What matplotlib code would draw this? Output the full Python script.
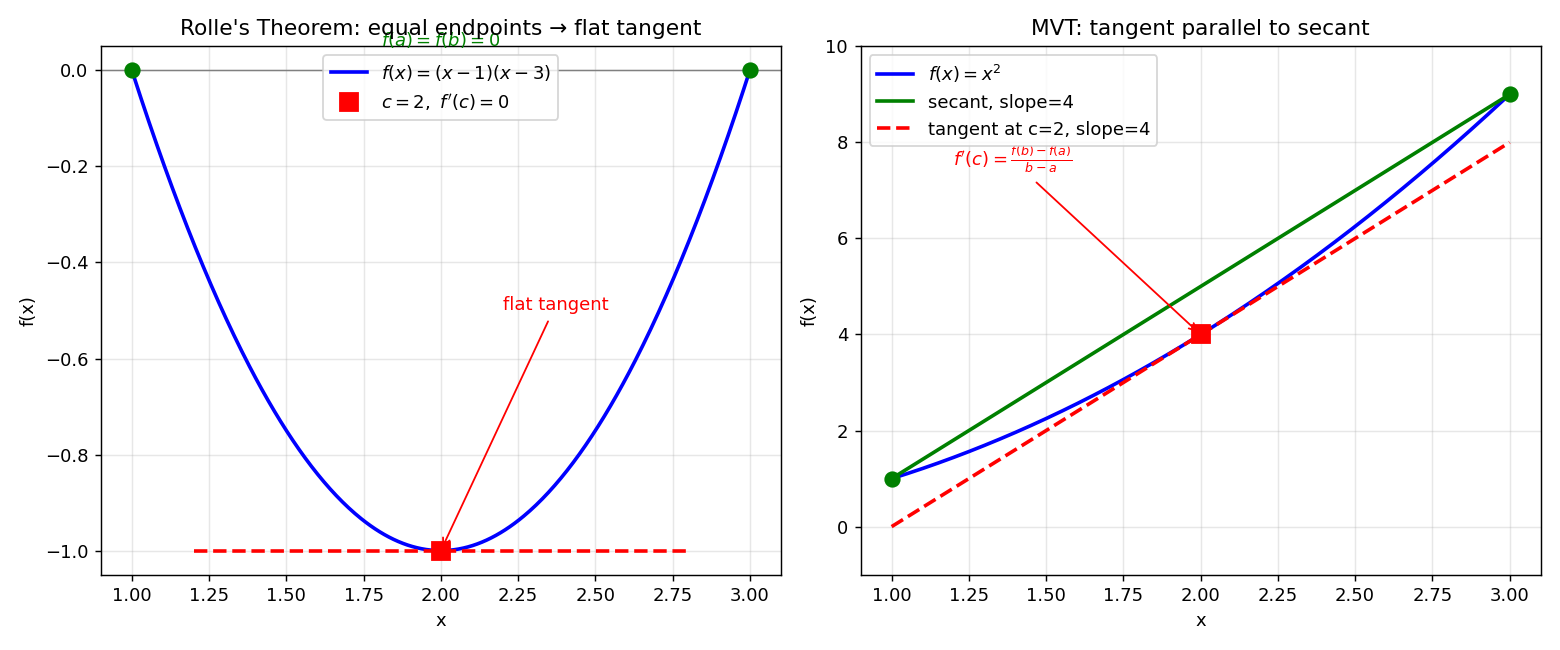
import numpy as np
import matplotlib
matplotlib.use("Agg")
import matplotlib.pyplot as plt

# Rolle panel
rolle_a, rolle_b, rolle_c = 1.0, 3.0, 2.0
rolle_tan_x = [1.2, 2.8]
# MVT panel
mvt_a, mvt_b, mvt_c = 1.0, 3.0, 2.0
mvt_slope = 4.0

x1 = np.linspace(rolle_a, rolle_b, 400)
f1 = (x1 - 1) * (x1 - 3)
x2 = np.linspace(mvt_a, mvt_b, 400)
f2 = x2 ** 2

fig, axes = plt.subplots(1, 2, figsize=(12, 5), dpi=130)

# --- left: Rolle's theorem ---
ax = axes[0]
ax.plot(x1, f1, color="blue", lw=2, label=r"$f(x)=(x-1)(x-3)$")
ax.axhline(0, color="gray", lw=0.8)
ax.plot([rolle_a, rolle_b], [0, 0], "o", color="green", ms=8)
fc = (rolle_c - 1) * (rolle_c - 3)
ax.plot(rolle_tan_x, [fc, fc], "--", color="red", lw=2)
ax.plot([rolle_c], [fc], "s", color="red", ms=10, label=r"$c=2,\ f'(c)=0$")
ax.annotate("flat tangent", xy=(rolle_c, fc), xytext=(2.2, -0.5), color="red",
            arrowprops=dict(arrowstyle="->", color="red"))
ax.text(2.0, 0.05, r"$f(a)=f(b)=0$", color="green", ha="center")
ax.set_ylim(-1.05, 0.05)
ax.set_xlabel("x"); ax.set_ylabel("f(x)")
ax.set_title("Rolle's Theorem: equal endpoints → flat tangent")
ax.grid(alpha=0.3)
ax.legend(loc="upper center")

# --- right: MVT ---
ax = axes[1]
ax.plot(x2, f2, color="blue", lw=2, label=r"$f(x)=x^2$")
ax.plot([mvt_a, mvt_b], [mvt_a ** 2, mvt_b ** 2], color="green", lw=2,
        label="secant, slope=4")
ax.plot(x2, mvt_c ** 2 + mvt_slope * (x2 - mvt_c), "--", color="red", lw=2,
        label="tangent at c=2, slope=4")
ax.plot([mvt_a, mvt_b], [mvt_a ** 2, mvt_b ** 2], "o", color="green", ms=8)
ax.plot([mvt_c], [mvt_c ** 2], "s", color="red", ms=10)
ax.annotate(r"$f'(c)=\frac{f(b)-f(a)}{b-a}$", xy=(mvt_c, mvt_c ** 2),
            xytext=(1.2, 7.5), color="red",
            arrowprops=dict(arrowstyle="->", color="red"))
ax.set_ylim(-1, 10)
ax.set_xlabel("x"); ax.set_ylabel("f(x)")
ax.set_title("MVT: tangent parallel to secant")
ax.grid(alpha=0.3)
ax.legend(loc="upper left")

fig.tight_layout()
fig.savefig("out.png", dpi=130)
